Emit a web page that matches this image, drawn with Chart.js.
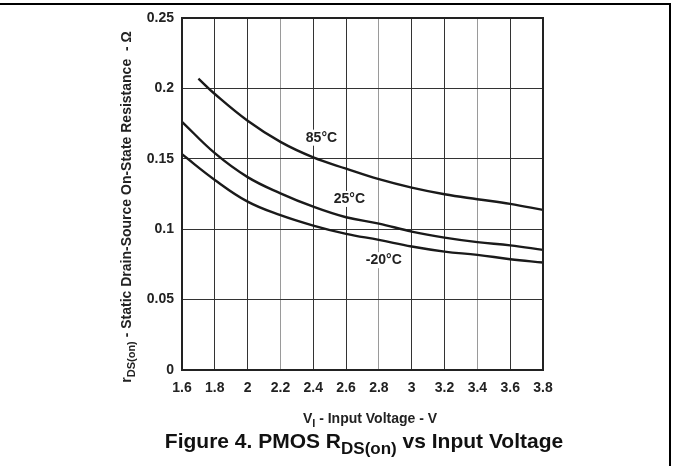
<!DOCTYPE html>
<html>
<head>
<meta charset="utf-8">
<script src="https://cdn.jsdelivr.net/npm/chart.js@4.4.0/dist/chart.umd.min.js"></script>
<style>
  html, body { margin: 0; padding: 0; background: #fff; }
  #wrap { width: 673px; height: 466px; position: relative; }
</style>
</head>
<body>
<div id="wrap"><canvas id="chart" width="673" height="466"></canvas></div>
<script>
// input voltage (V)
const voltage = [1.6, 1.8, 2.0, 2.2, 2.4, 2.6, 2.8, 3.0, 3.2, 3.4, 3.6, 3.8];
const voltage85 = [1.7, 1.8, 2.0, 2.2, 2.4, 2.6, 2.8, 3.0, 3.2, 3.4, 3.6, 3.8];

// rds(on) in ohms
const rds85 = [0.207, 0.196, 0.177, 0.162, 0.151, 0.143, 0.1355, 0.1295, 0.1248, 0.1213, 0.118, 0.1137];
const rds25 = [0.1763, 0.154, 0.137, 0.1255, 0.116, 0.1085, 0.104, 0.0983, 0.094, 0.0908, 0.0885, 0.0853];
const rdsM20 = [0.1532, 0.135, 0.1196, 0.110, 0.1026, 0.0967, 0.0924, 0.0877, 0.0841, 0.0818, 0.0787, 0.0763];

const seriesLabels = ['85°C', '25°C', '-20°C'];
const labelPos = [[2.45, 0.165], [2.62, 0.1215], [2.83, 0.078]];

const lightGrid = [2.2, 2.8, 3.4];

function pts(xs, ys) {
    return xs.map((x, i) => ({ x: x, y: ys[i] }));
}

const FONT = "'Liberation Sans', Arial, sans-serif";

// draw text with subscripts, parts = [[text, isSub], ...]
function drawRich(ctx, parts, x, y, size) {
    const subSize = Math.round(size * 0.8);
    let total = 0;
    parts.forEach(p => {
        ctx.font = 'bold ' + (p[1] ? subSize : size) + 'px ' + FONT;
        total += ctx.measureText(p[0]).width;
    });
    let cx = x - total / 2;
    ctx.textAlign = 'left';
    ctx.textBaseline = 'middle';
    parts.forEach(p => {
        ctx.font = 'bold ' + (p[1] ? subSize : size) + 'px ' + FONT;
        ctx.fillText(p[0], cx, p[1] ? y + size * 0.35 : y);
        cx += ctx.measureText(p[0]).width;
    });
}

const decor = {
    id: 'decor',
    afterDraw(chart) {
        const ctx = chart.ctx;
        const a = chart.chartArea;
        const xs = chart.scales.x, ys = chart.scales.y;
        ctx.save();
        // plot box
        ctx.strokeStyle = '#222';
        ctx.lineWidth = 2;
        ctx.strokeRect(a.left, a.top, a.right - a.left, a.bottom - a.top);
        // page frame
        ctx.strokeStyle = '#000';
        ctx.beginPath();
        ctx.moveTo(0, 4);
        ctx.lineTo(670, 4);
        ctx.lineTo(670, 466);
        ctx.stroke();
        ctx.fillStyle = '#222';
        // curve labels
        ctx.font = 'bold 14px ' + FONT;
        ctx.textAlign = 'center';
        ctx.textBaseline = 'middle';
        seriesLabels.forEach((t, i) => {
            const px = xs.getPixelForValue(labelPos[i][0]);
            const py = ys.getPixelForValue(labelPos[i][1]);
            ctx.fillStyle = '#fff';
            const w = ctx.measureText(t).width;
            ctx.fillRect(px - w / 2 - 1, py - 8, w + 2, 16);
            ctx.fillStyle = '#222';
            ctx.fillText(t, px, py);
        });
        // x axis title
        drawRich(ctx, [['V', false], ['I', true], [' - Input Voltage - V', false]], 370, 419, 14);
        // figure title
        ctx.fillStyle = '#111';
        drawRich(ctx, [['Figure 4. PMOS R', false], ['DS(on)', true], [' vs Input Voltage', false]], 364, 442, 21);
        // y axis title
        ctx.fillStyle = '#222';
        ctx.translate(127, 207);
        ctx.rotate(-Math.PI / 2);
        drawRich(ctx, [['r', false], ['DS(on)', true], [' - Static Drain-Source On-State Resistance  - Ω', false]], 0, 0, 14);
        ctx.restore();
    }
};

function lineSet(xs, ys) {
    return {
        data: pts(xs, ys),
        borderColor: '#1a1a1a',
        borderWidth: 2.4,
        pointRadius: 0,
        fill: false,
        tension: 0.4
    };
}

new Chart(document.getElementById('chart'), {
    type: 'line',
    data: {
        datasets: [
            lineSet(voltage85, rds85),
            lineSet(voltage, rds25),
            lineSet(voltage, rdsM20)
        ]
    },
    options: {
        responsive: false,
        animation: false,
        layout: { padding: { left: 117, right: 130, top: 18, bottom: 56 } },
        plugins: { legend: { display: false }, tooltip: { enabled: false } },
        scales: {
            x: {
                type: 'linear',
                min: 1.6,
                max: 3.8,
                afterBuildTicks: s => { s.ticks = voltage.map(v => ({ value: v })); },
                afterFit: s => { s.height = 40; },
                grid: {
                    drawTicks: false,
                    lineWidth: 1,
                    color: c => lightGrid.some(v => Math.abs(v - c.tick.value) < 1e-6) ? '#9a9a9a' : '#333'
                },
                border: { display: false },
                ticks: {
                    padding: 10,
                    color: '#222',
                    font: { family: FONT, size: 14, weight: 'bold' },
                    callback: v => String(Number(v.toFixed(2)))
                }
            },
            y: {
                min: 0,
                max: 0.25,
                ticks: {
                    stepSize: 0.05,
                    padding: 8,
                    color: '#222',
                    font: { family: FONT, size: 14, weight: 'bold' },
                    callback: v => String(Number(v.toFixed(2)))
                },
                afterFit: s => { s.width = 65; },
                grid: { drawTicks: false, lineWidth: 1, color: '#333' },
                border: { display: false }
            }
        }
    },
    plugins: [decor]
});
</script>
</body>
</html>
